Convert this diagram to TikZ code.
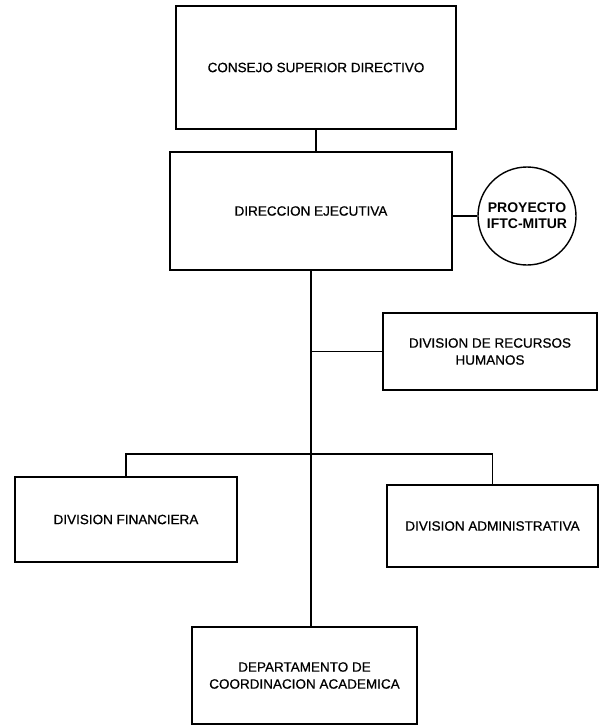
\documentclass[tikz,border=0pt]{standalone}
\usepackage{fontspec}
\setmainfont{Liberation Sans}
\newfontfamily\escaneo[FakeBold=0.6]{Liberation Sans}
\begin{document}
\begin{tikzpicture}[x=1pt,y=-1pt,
  unidad/.style={draw,line width=1.4pt,align=center,inner sep=0pt,font=\escaneo\fontsize{13.5}{17}\selectfont},
  proyecto/.style={draw,circle,line width=1.4pt,minimum size=98pt,inner sep=0pt,align=center,font=\bfseries\fontsize{14}{16}\selectfont},
  linea/.style={line width=1.4pt}]
\useasboundingbox (0,0) rectangle (599,726);
\node[unidad,minimum width=280pt,minimum height=123pt] (consejo) at (316,67.5) {CONSEJO SUPERIOR DIRECTIVO};
\node[unidad,minimum width=282pt,minimum height=118pt] (direccion) at (311,211) {DIRECCION EJECUTIVA};
\node[proyecto] (proy) at (527,216) {PROYECTO\\IFTC-MITUR};
\node[unidad,minimum width=214pt,minimum height=77pt] (rrhh) at (490,351.5) {DIVISION DE RECURSOS\\HUMANOS};
\node[unidad,minimum width=222pt,minimum height=85pt] (financiera) at (126,519.5) {DIVISION FINANCIERA};
\node[unidad,minimum width=211pt,minimum height=82pt] (administrativa) at (492.5,526) {DIVISION ADMINISTRATIVA};
\node[unidad,minimum width=225pt,minimum height=97pt] (depto) at (304.5,675.5) {DEPARTAMENTO DE\\COORDINACION ACADEMICA};
\coordinate (cruce) at (direccion.south |- 0,454);
\draw[linea] (consejo.south) -- (consejo.south |- direccion.north);
\draw[linea] (proy.west) -- (proy.west -| direccion.east);
\draw[linea] (direccion.south) -- (direccion.south |- depto.north);
\draw[linea] (rrhh.west) -- (rrhh.west -| direccion.south);
\draw[linea] (financiera.north) |- (cruce) -| (administrativa.north);
\end{tikzpicture}
\end{document}
